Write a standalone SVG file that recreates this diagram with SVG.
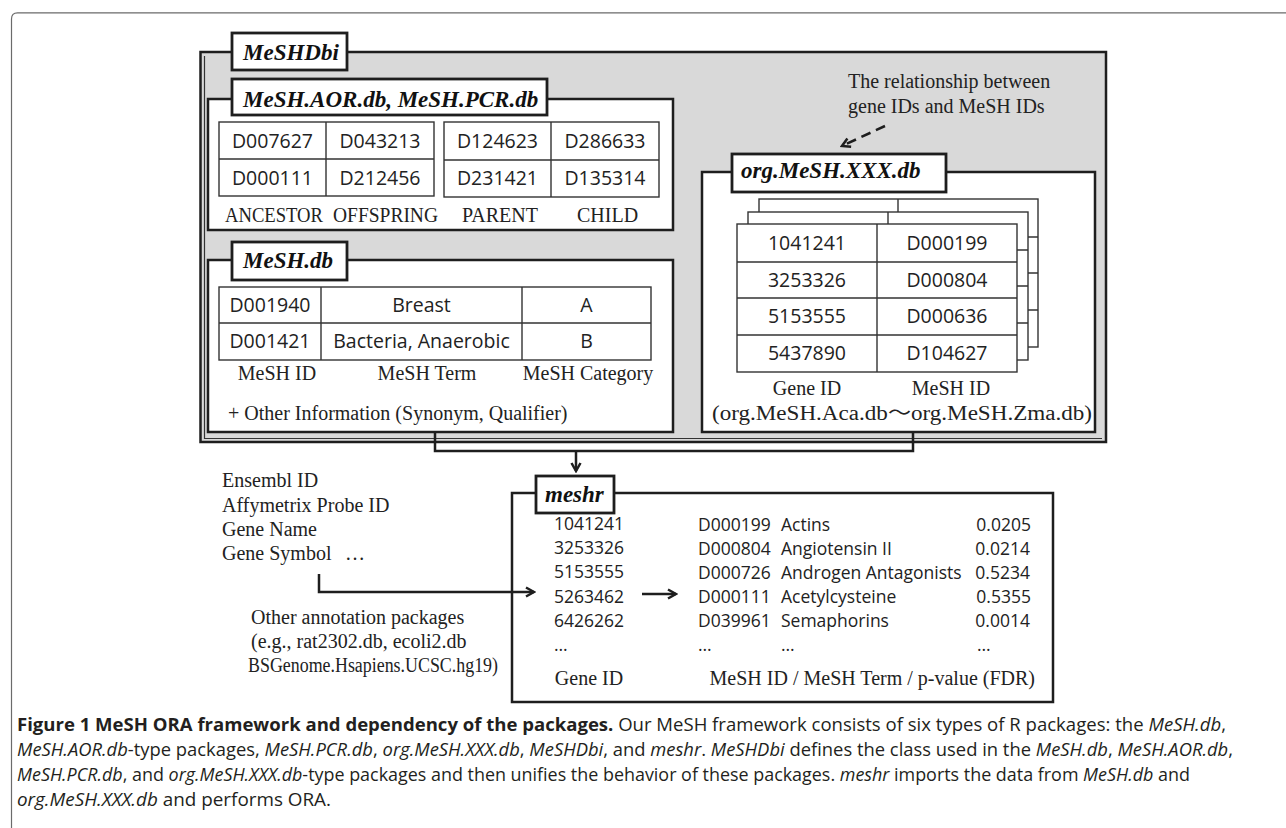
<svg xmlns="http://www.w3.org/2000/svg" width="1286" height="828" viewBox="0 0 1286 828">
<style>
.frame{fill:none;stroke:#6b6b6b;stroke-width:1.2}
.pkg{fill:#fff;stroke:#1e1e1e;stroke-width:2.5}
.gray{fill:#d9d9d9;stroke:#1e1e1e;stroke-width:2.5}
.lbl{fill:#fff;stroke:#1e1e1e;stroke-width:2.8}
.lt{font-family:"Liberation Serif",serif;font-weight:bold;font-style:italic;font-size:23px;fill:#111}
.tb{fill:#fff;stroke:#333;stroke-width:1.4}
.tl{stroke:#333;stroke-width:1.4;fill:none}
.cell{font-family:"Open Sans",sans-serif;font-size:19.5px;fill:#222;text-anchor:middle}
.ser{font-family:"Liberation Serif",serif;font-size:20px;fill:#222}
.mid{text-anchor:middle}
.ms{font-family:"Open Sans",sans-serif;font-size:17.5px;fill:#222}
.cap{font-family:"Open Sans",sans-serif;font-size:17.5px;fill:#231f20}
.conn{fill:none;stroke:#1e1e1e;stroke-width:2.5}
</style>
<defs>
<marker id="arr" viewBox="0 0 12 12" refX="10" refY="6" markerWidth="12" markerHeight="12" markerUnits="userSpaceOnUse" orient="auto">
<path d="M2,1.5 L10,6 L2,10.5" fill="none" stroke="#1e1e1e" stroke-width="2.5"/>
</marker>
</defs>

<path class="frame" d="M11.5,840 V19 Q11.5,12.8 17.5,12.8 H1290"/>

<g id="meshdbi">
<rect class="gray" x="200.5" y="52" width="905.5" height="390"/>
<path d="M204.5,56 V438.5 H1102" fill="none" stroke="#333" stroke-width="1.2"/>
<rect class="lbl" x="232" y="33" width="115" height="37"/>
<text class="lt" x="243" y="60">MeSHDbi</text>
<text class="ser" x="848" y="88">The relationship between</text>
<text class="ser" x="848" y="113">gene IDs and MeSH IDs</text>
</g>

<g id="mesh-aor-pcr">
<rect class="pkg" x="208" y="99" width="465" height="131"/>
<rect class="lbl" x="232" y="79" width="315" height="36"/>
<text class="lt" x="243" y="107">MeSH.AOR.db, MeSH.PCR.db</text>
<rect class="tb" x="219" y="122" width="215" height="74"/>
<path class="tl" d="M219,159 H434 M326,122 V196"/>
<rect class="tb" x="444" y="122" width="215" height="75"/>
<path class="tl" d="M444,160 H659 M551,122 V197"/>
<text class="cell" x="272.5" y="148">D007627</text>
<text class="cell" x="380" y="148">D043213</text>
<text class="cell" x="497.5" y="148">D124623</text>
<text class="cell" x="605" y="148">D286633</text>
<text class="cell" x="272.5" y="185">D000111</text>
<text class="cell" x="380" y="185">D212456</text>
<text class="cell" x="497.5" y="185">D231421</text>
<text class="cell" x="605" y="185">D135314</text>
<text class="ser" x="225" y="222" font-size="19" textLength="98" lengthAdjust="spacingAndGlyphs">ANCESTOR</text>
<text class="ser" x="333" y="222" font-size="19" textLength="105" lengthAdjust="spacingAndGlyphs">OFFSPRING</text>
<text class="ser" x="462" y="222" font-size="19">PARENT</text>
<text class="ser" x="577" y="222" font-size="19">CHILD</text>
</g>

<g id="mesh-db">
<rect class="pkg" x="208" y="260" width="465" height="172"/>
<rect class="lbl" x="232" y="242" width="115" height="38"/>
<text class="lt" x="243" y="268">MeSH.db</text>
<rect class="tb" x="219" y="287" width="432" height="73"/>
<path class="tl" d="M219,323 H651 M321,287 V360 M522,287 V360"/>
<text class="cell" x="270" y="312">D001940</text>
<text class="cell" x="421.5" y="312">Breast</text>
<text class="cell" x="586.5" y="312">A</text>
<text class="cell" x="270" y="348">D001421</text>
<text class="cell" x="421.5" y="348">Bacteria, Anaerobic</text>
<text class="cell" x="586.5" y="348">B</text>
<text class="ser mid" x="277" y="380">MeSH ID</text>
<text class="ser mid" x="427" y="380">MeSH Term</text>
<text class="ser mid" x="588" y="380">MeSH Category</text>
<text class="ser" x="228" y="420">+ Other Information (Synonym, Qualifier)</text>
</g>

<g id="org-mesh-xxx-db">
<rect class="pkg" x="702" y="172" width="393" height="260"/>
<rect class="lbl" x="732" y="154" width="214" height="38"/>
<text class="lt" x="741" y="178">org.MeSH.XXX.db</text>
<rect class="tb" x="759" y="199" width="279" height="148"/>
<path class="tl" d="M759,237 H1038 M759,273 H1038 M759,310 H1038 M898,199 V347"/>
<rect class="tb" x="748" y="212" width="280" height="148"/>
<path class="tl" d="M748,250 H1028 M748,286 H1028 M748,323 H1028 M888,212 V360"/>
<rect class="tb" x="737" y="224" width="280" height="148"/>
<path class="tl" d="M737,262 H1017 M737,298 H1017 M737,335 H1017 M877,224 V372"/>
<text class="cell" x="807" y="250">1041241</text>
<text class="cell" x="947" y="250">D000199</text>
<text class="cell" x="807" y="287">3253326</text>
<text class="cell" x="947" y="287">D000804</text>
<text class="cell" x="807" y="323">5153555</text>
<text class="cell" x="947" y="323">D000636</text>
<text class="cell" x="807" y="360">5437890</text>
<text class="cell" x="947" y="360">D104627</text>
<text class="ser mid" x="807" y="395">Gene ID</text>
<text class="ser mid" x="951" y="395">MeSH ID</text>
<text class="ser" x="712" y="420" font-size="22.5" textLength="380" lengthAdjust="spacingAndGlyphs" style="font-family:'Liberation Serif','Noto Sans CJK JP',serif">(org.MeSH.Aca.db～org.MeSH.Zma.db)</text>
</g>

<g id="inputs">
<text class="ser" x="222" y="487">Ensembl ID</text>
<text class="ser" x="222" y="512">Affymetrix Probe ID</text>
<text class="ser" x="222" y="536">Gene Name</text>
<text class="ser" x="222" y="560">Gene Symbol<tspan x="345">…</tspan></text>
<text class="ser" x="251" y="624">Other annotation packages</text>
<text class="ser" x="251" y="648">(e.g., rat2302.db, ecoli2.db</text>
<text class="ser" x="248" y="672" textLength="250" lengthAdjust="spacingAndGlyphs">BSGenome.Hsapiens.UCSC.hg19)</text>
</g>

<g id="meshr">
<rect class="pkg" x="512" y="493" width="541" height="209"/>
<rect class="lbl" x="536" y="476" width="78" height="37"/>
<text class="lt" x="545" y="502">meshr</text>
<text class="ms" x="554" y="530">1041241</text>
<text class="ms" x="554" y="554">3253326</text>
<text class="ms" x="554" y="578">5153555</text>
<text class="ms" x="554" y="603">5263462</text>
<text class="ms" x="554" y="627">6426262</text>
<text class="ms" x="554" y="651">…</text>
<text class="ms" x="698" y="531">D000199</text>
<text class="ms" x="698" y="555">D000804</text>
<text class="ms" x="698" y="579">D000726</text>
<text class="ms" x="698" y="603">D000111</text>
<text class="ms" x="698" y="627">D039961</text>
<text class="ms" x="698" y="651">…</text>
<text class="ms" x="781" y="531">Actins</text>
<text class="ms" x="781" y="555">Angiotensin II</text>
<text class="ms" x="781" y="579">Androgen Antagonists</text>
<text class="ms" x="781" y="603">Acetylcysteine</text>
<text class="ms" x="781" y="627">Semaphorins</text>
<text class="ms" x="781" y="651">…</text>
<text class="ms" x="1031" y="531" text-anchor="end">0.0205</text>
<text class="ms" x="1030" y="555" text-anchor="end">0.0214</text>
<text class="ms" x="1030" y="579" text-anchor="end">0.5234</text>
<text class="ms" x="1031" y="603" text-anchor="end">0.5355</text>
<text class="ms" x="1030" y="627" text-anchor="end">0.0014</text>
<text class="ms" x="977" y="651">…</text>
<text class="ser mid" x="589" y="685">Gene ID</text>
<text class="ser" x="1035" y="685" text-anchor="end">MeSH ID / MeSH Term / p-value (FDR)</text>
</g>

<g id="connectors">
<path class="conn" d="M435,432 V451 H913 V432"/>
<path class="conn" d="M576,451 V471" marker-end="url(#arr)"/>
<path class="conn" d="M319,574 V592 H534" marker-end="url(#arr)"/>
<path class="conn" d="M642,594 H676" marker-end="url(#arr)"/>
<path class="conn" d="M885,126 L842,146" stroke-dasharray="10,6" marker-end="url(#arr)"/>
</g>

<g id="caption">
<text class="cap" x="17" y="731" textLength="1209" lengthAdjust="spacingAndGlyphs"><tspan font-weight="bold">Figure 1 MeSH ORA framework and dependency of the packages.</tspan> Our MeSH framework consists of six types of R packages: the <tspan font-style="italic">MeSH.db</tspan>,</text>
<text class="cap" x="17" y="756" textLength="1216" lengthAdjust="spacingAndGlyphs"><tspan font-style="italic">MeSH.AOR.db</tspan>-type packages, <tspan font-style="italic">MeSH.PCR.db</tspan>, <tspan font-style="italic">org.MeSH.XXX.db</tspan>, <tspan font-style="italic">MeSHDbi</tspan>, and <tspan font-style="italic">meshr</tspan>. <tspan font-style="italic">MeSHDbi</tspan> defines the class used in the <tspan font-style="italic">MeSH.db</tspan>, <tspan font-style="italic">MeSH.AOR.db</tspan>,</text>
<text class="cap" x="17" y="781" textLength="1173" lengthAdjust="spacingAndGlyphs"><tspan font-style="italic">MeSH.PCR.db</tspan>, and <tspan font-style="italic">org.MeSH.XXX.db</tspan>-type packages and then unifies the behavior of these packages. <tspan font-style="italic">meshr</tspan> imports the data from <tspan font-style="italic">MeSH.db</tspan> and</text>
<text class="cap" x="17" y="806" textLength="314" lengthAdjust="spacingAndGlyphs"><tspan font-style="italic">org.MeSH.XXX.db</tspan> and performs ORA.</text>
</g>
</svg>
